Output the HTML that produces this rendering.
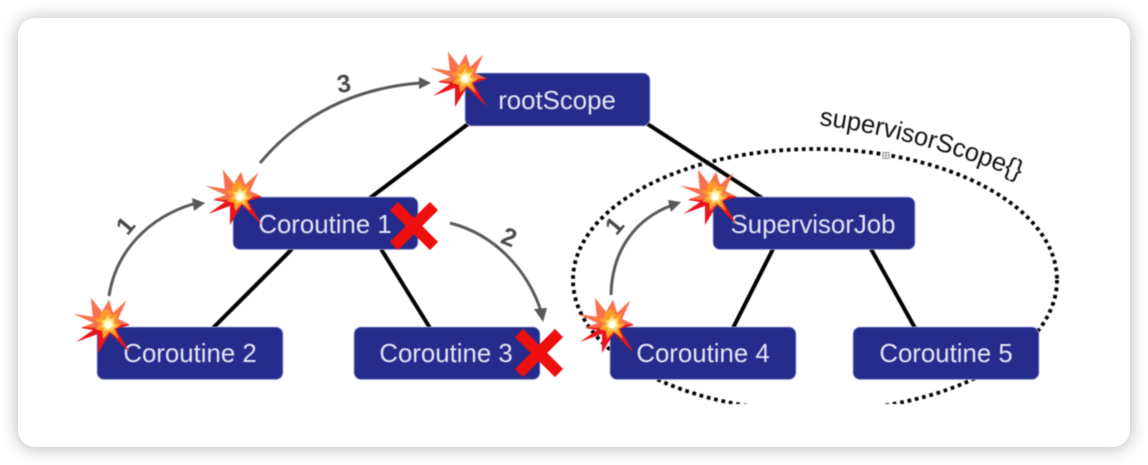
<!DOCTYPE html>
<html>
<head>
<meta charset="utf-8">
<style>
html,body{margin:0;padding:0;background:#fff;width:1148px;height:465px;overflow:hidden}
#card{position:absolute;left:18px;top:18px;width:1112px;height:429px;background:#fff;border-radius:17px;box-shadow:0 1px 17px rgba(0,0,0,.3)}
svg{position:absolute;left:0;top:0;filter:blur(.45px)}
text{font-family:"Liberation Sans",sans-serif}
.b{fill:#262c8c;stroke:#aeb2dc;stroke-width:.8}
.t{fill:#e4e6f6;font-size:25.8px;text-anchor:middle}
.l{stroke:#000;stroke-width:4;fill:none}
.a{stroke:#595959;stroke-width:3;fill:none}
.h{fill:#595959}
.n{fill:#4a4a4a;font-size:25px;font-weight:bold;text-anchor:middle}
.x{stroke:#ee0f0f;stroke-width:11.5;fill:none}
</style>
</head>
<body>
<div id="card"></div>
<svg width="1148" height="465" viewBox="0 0 1148 465" xmlns="http://www.w3.org/2000/svg">
<defs>
<clipPath id="c"><rect x="500" y="100" width="640" height="304"/></clipPath>
<radialGradient id="g"><stop offset="0" stop-color="#fffef0"/><stop offset=".35" stop-color="#ffee9a"/><stop offset="1" stop-color="#fbb22c"/></radialGradient>
<g id="boom">
<polygon fill="#e8141c" points="-17,-27 -6,-13 1,-25 5,-12 18,-24 10,-6 22,0 8,4 22,28 2,8 -10,28 -10,9 -32,17 -15,5 -27,3 -14,-2 -34,-11 -15,-8"/>
<polygon fill="#f8714c" points="-17,-27 -6,-13 1,-25 5,-12 18,-24 10,-6 21,-1 7,0 0,1 -6,0 -14,3 -26,2 -14,-2 -34,-11 -15,-8"/>
<polygon fill="#fb9a2a" points="-7,-13 0,-16 4,-10 10,-11 7,-4 13,0 7,4 11,14 2,7 -5,14 -6,6 -13,4 -8,-1 -14,-6 -8,-7"/>
<polygon fill="url(#g)" points="0,-11 2,-6 7,-7 5,-2 10,1 5,3 5,8 1,5 -4,8 -4,3 -9,2 -5,-1 -8,-5 -3,-5"/>
<circle r="3.500" fill="#fffef2"/>
</g>
</defs>

<line class="l" x1="468" y1="124" x2="370" y2="198"/>
<line class="l" x1="646" y1="123" x2="762" y2="198"/>
<line class="l" x1="292" y1="249" x2="213" y2="328"/>
<line class="l" x1="381" y1="249" x2="430" y2="328"/>
<line class="l" x1="773" y1="249" x2="733" y2="328"/>
<line class="l" x1="871" y1="249" x2="915" y2="328"/>

<g clip-path="url(#c)"><ellipse cx="815" cy="280" rx="242" ry="131" fill="none" stroke="#000" stroke-width="3.8" stroke-dasharray="3.7 3.8"/></g>
<rect x="883" y="152.500" width="6" height="6" fill="#fff" stroke="#666" stroke-width=".7"/>
<path d="M883 155.500h6M886 152.500v6" stroke="#666" stroke-width=".6"/>

<rect class="b" x="465" y="73" width="185" height="53" rx="7"/>
<rect class="b" x="233" y="197" width="185" height="52.500" rx="7"/>
<rect class="b" x="713" y="197" width="202" height="52.500" rx="7"/>
<rect class="b" x="97" y="327" width="186" height="52.500" rx="7"/>
<rect class="b" x="354" y="327" width="186" height="52.500" rx="7"/>
<rect class="b" x="610" y="327" width="186" height="52.500" rx="7"/>
<rect class="b" x="853" y="327" width="186" height="52.500" rx="7"/>

<text class="t" x="557" y="109">rootScope</text>
<text class="t" x="325" y="233">Coroutine 1</text>
<text class="t" x="813" y="233">SupervisorJob</text>
<text class="t" x="190" y="362">Coroutine 2</text>
<text class="t" x="446" y="362">Coroutine 3</text>
<text class="t" x="703" y="362">Coroutine 4</text>
<text class="t" x="946" y="362">Coroutine 5</text>

<path id="sv" d="M819 125 Q930 139 1050 192" fill="none"/>
<text font-size="25.6" fill="#111"><textPath href="#sv">supervisorScope{}</textPath></text>

<path class="a" d="M109 296 C116 250 150 217 193 204"/>
<polygon class="h" points="205,203 192,198 194,211"/>
<path class="a" d="M260 163 C300 115 355 88 420 83"/>
<polygon class="h" points="431,83 419,77 419,89"/>
<path class="a" d="M450 223 C497 235 528 272 541 311"/>
<polygon class="h" points="543,322 534,309 547,308"/>
<path class="a" d="M611 295 C612 250 635 220 670 206"/>
<polygon class="h" points="681,202 668,200 671,212"/>

<text class="n" transform="translate(132,231) rotate(-50)">1</text>
<text class="n" transform="translate(345,92) rotate(-8)">3</text>
<text class="n" transform="translate(506,245) rotate(22)">2</text>
<text class="n" transform="translate(621,231) rotate(-50)">1</text>

<use href="#boom" x="465" y="79"/>
<use href="#boom" x="240" y="197"/>
<use href="#boom" x="715" y="197"/>
<use href="#boom" x="108" y="325"/>
<use href="#boom" x="612" y="325"/>

<path class="x" d="M394 206L434 246M434 206L394 246"/>
<path class="x" d="M519 333L559 373M559 333L519 373"/>
</svg>
</body>
</html>
